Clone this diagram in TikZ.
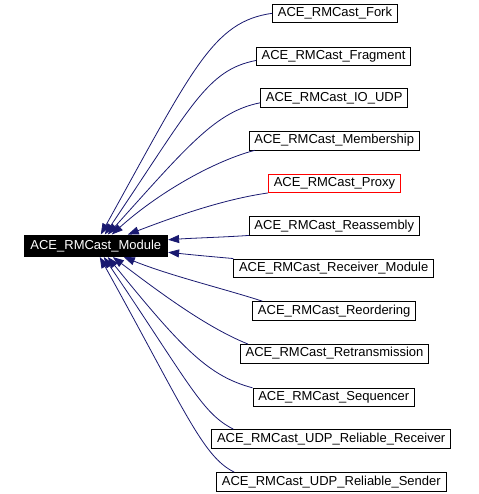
\documentclass[tikz,border=0pt]{standalone}
\usepackage{fontspec}
\setmainfont{Liberation Sans}
\usetikzlibrary{arrows.meta}
\definecolor{edgeblue}{HTML}{191970}
\tikzset{
	every path/.style={line width=0.8pt},
	cls/.style={
		draw,
		rectangle,
		font=\fontsize{13}{15}\selectfont,
		inner xsep=5.3pt,
		inner ysep=0pt,
		text height=9.3pt,
		text depth=2.7pt,
		minimum height=18.5pt,
	},
	base/.style={
		cls,
		fill=black,
		text=white,
		inner xsep=6.5pt,
		minimum height=21.7pt,
	},
	documented/.style={draw=red},
	inherit/.style={
		draw=edgeblue,
		-{Triangle[length=11pt,width=8pt]}
	},
}

\begin{document}
\begin{tikzpicture}[x=1pt,y=1pt]
		\useasboundingbox (0,0) rectangle (478,494);

		\node[base] (module) at (95.8,248.2) {ACE\_RMCast\_Module};

		\node[cls] (fork)    at (335,480.7) {ACE\_RMCast\_Fork};
		\node[cls] (frag)    at (333.5,437.5) {ACE\_RMCast\_Fragment};
		\node[cls] (ioudp)   at (334.2,396.2) {ACE\_RMCast\_IO\_UDP};
		\node[cls] (memb)    at (334.2,353.3) {ACE\_RMCast\_Membership};
		\node[cls,documented] (proxy) at (334.5,310.7) {ACE\_RMCast\_Proxy};
		\node[cls] (reasm)   at (334.3,268.2) {ACE\_RMCast\_Reassembly};
		\node[cls] (recvmod) at (333.7,225.8) {ACE\_RMCast\_Receiver\_Module};
		\node[cls] (reord)   at (334.2,183.2) {ACE\_RMCast\_Reordering};
		\node[cls] (retx)    at (334.5,140.3) {ACE\_RMCast\_Retransmission};
		\node[cls] (seq)     at (333.8,96.5) {ACE\_RMCast\_Sequencer};
		\node[cls] (udprecv) at (331.2,55.2) {ACE\_RMCast\_UDP\_Reliable\_Receiver};
		\node[cls] (udpsend) at (331.3,12.3) {ACE\_RMCast\_UDP\_Reliable\_Sender};

		% upper half
		\draw[inherit] (fork.west) .. controls +(188:60pt) and +(61:190pt) .. ([xshift=5pt]module.north);
		\draw[inherit] ([yshift=-4pt]frag.west) .. controls +(191:50pt) and +(56:155pt) .. ([xshift=9pt]module.north);
		\draw[inherit] ([yshift=-5pt]ioudp.west) .. controls +(191:45pt) and +(48:120pt) .. ([xshift=12pt]module.north);
		\draw[inherit] ([xshift=6pt]memb.south west) .. controls +(195:45pt) and +(42:60pt) .. ([xshift=16pt]module.north);
		\draw[inherit] (proxy.south west) .. controls +(188:45pt) and +(21:50pt) .. ([xshift=32pt]module.north);
		\draw[inherit] (reasm.south west) .. controls +(184:25pt) and +(4:25pt) .. ([yshift=6pt]module.east);
		% lower half
		\draw[inherit] (recvmod.north west) .. controls +(175:25pt) and +(354:25pt) .. ([yshift=-6.5pt]module.east);
		\draw[inherit] ([xshift=10pt]reord.north west) .. controls +(162:40pt) and +(338:50pt) .. ([xshift=28pt]module.south);
		\draw[inherit] ([xshift=8pt]retx.north west) .. controls +(158:45pt) and +(323:60pt) .. ([xshift=17pt]module.south);
		\draw[inherit] (seq.north west) .. controls +(165:45pt) and +(309:120pt) .. ([xshift=12pt]module.south);
		\draw[inherit] ([xshift=22pt]udprecv.north west) .. controls +(153:35pt) and +(304:155pt) .. ([xshift=8pt]module.south);
		\draw[inherit] ([xshift=18pt]udpsend.north west) .. controls +(154:35pt) and +(299:175pt) .. ([xshift=4pt]module.south);

	\end{tikzpicture}
\end{document}
